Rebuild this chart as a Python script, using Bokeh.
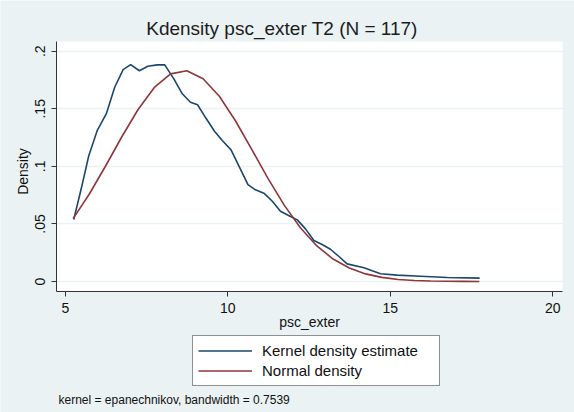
import math
from bokeh.plotting import figure
from bokeh.models import Range1d, FixedTicker, Legend, LegendItem, Label, BoxAnnotation
from bokeh.embed import file_html
from bokeh.resources import INLINE

# ---- data ----
kde_x = [5.26, 5.49, 5.72, 5.98, 6.26, 6.52, 6.78, 7.01, 7.28, 7.54, 7.83, 8.06,
         8.34, 8.60, 8.85, 9.07, 9.31, 9.59, 9.83, 10.10, 10.37, 10.62, 10.85,
         11.11, 11.37, 11.62, 11.93, 12.14, 12.39, 12.65, 12.90, 13.16, 13.42,
         13.67, 14.19, 14.70, 15.21, 15.93, 16.75, 17.75]
kde_y = [0.0538, 0.0805, 0.109, 0.131, 0.1455, 0.1687, 0.184, 0.1884, 0.183,
         0.1869, 0.1881, 0.1881, 0.176, 0.163, 0.1557, 0.1535, 0.1426, 0.1305,
         0.1224, 0.1143, 0.0987, 0.0842, 0.0796, 0.0767, 0.0697, 0.061, 0.0564,
         0.0535, 0.0457, 0.0356, 0.0321, 0.028, 0.0217, 0.0153, 0.0119, 0.0067,
         0.0055, 0.0046, 0.0035, 0.0029]

norm_x = [5.24, 5.74, 6.24, 6.74, 7.24, 7.74, 8.24, 8.74, 9.24, 9.74, 10.24,
          10.74, 11.24, 11.74, 12.24, 12.74, 13.24, 13.74, 14.24, 14.74, 15.24,
          15.74, 16.24, 16.74, 17.24, 17.74]
norm_y = [0.0546, 0.0760, 0.1003, 0.1257, 0.1494, 0.1685, 0.1803, 0.1830,
          0.1761, 0.1609, 0.1394, 0.1146, 0.0893, 0.0661, 0.0464, 0.0309,
          0.0195, 0.0117, 0.0066, 0.0036, 0.0018, 0.0009, 0.0004, 0.0002,
          0.0001, 0.0000]

x_ticks = [5, 10, 15, 20]
y_ticks = [0, 0.05, 0.1, 0.15, 0.2]
y_tick_labels = ["0", ".05", ".1", ".15", ".2"]

title_text = "Kdensity psc_exter T2 (N = 117)"
x_label = "psc_exter"
y_label = "Density"
note_text = "kernel = epanechnikov, bandwidth = 0.7539"
legend_labels = ["Kernel density estimate", "Normal density"]

# plot-region limits (data units)
X_MIN, X_MAX = 4.729, 20.30
Y_BOTTOM, Y_TOP = -0.00868, 0.2084

FONT = "Liberation Sans"
BG = "#EAF2F3"
TXT = "#111111"
AX = "#333333"
BLUE = "#1A476F"
RED = "#90353B"

p = figure(width=574, height=412, output_backend="svg", toolbar_location=None,
           x_range=Range1d(3.0062, 20.668), y_range=Range1d(-0.11376, 0.24403),
           min_border_left=0, min_border_right=0, min_border_top=0,
           min_border_bottom=0)
p.title.visible = False

p.background_fill_color = BG
p.border_fill_color = BG
p.outline_line_color = None

# white plot region
p.add_layout(BoxAnnotation(left=X_MIN, right=X_MAX, bottom=Y_BOTTOM, top=Y_TOP,
                           fill_color="white", fill_alpha=1.0, line_color=None,
                           level="image"))

p.xgrid.visible = False
p.ygrid.grid_line_color = BG
p.ygrid.grid_line_width = 1.5
p.ygrid.ticker = FixedTicker(ticks=y_ticks)

for ax in (p.xaxis[0], p.yaxis[0]):
    ax.axis_line_color = AX
    ax.major_tick_line_color = AX
    ax.minor_tick_line_color = None
    ax.major_tick_out = 5
    ax.major_tick_in = 0
    ax.major_label_text_font = FONT
    ax.major_label_text_font_size = "14px"
    ax.major_label_text_color = TXT

p.xaxis.ticker = FixedTicker(ticks=x_ticks)
p.xaxis.fixed_location = Y_BOTTOM
p.xaxis.bounds = (X_MIN, X_MAX)
p.xaxis.major_label_standoff = 7

p.yaxis.ticker = FixedTicker(ticks=y_ticks)
p.yaxis.fixed_location = X_MIN
p.yaxis.bounds = (Y_BOTTOM, Y_TOP)
p.yaxis.major_label_overrides = {t: s for t, s in zip(y_ticks, y_tick_labels)}
p.yaxis.major_label_orientation = "vertical"
p.yaxis.major_label_standoff = 6

r1 = p.line(kde_x, kde_y, line_color=BLUE, line_width=1.6)
r2 = p.line(norm_x, norm_y, line_color=RED, line_width=1.6)

legend = Legend(items=[LegendItem(label=legend_labels[0], renderers=[r1]),
                       LegendItem(label=legend_labels[1], renderers=[r2])],
                location=(192, 26), orientation="vertical",
                glyph_width=54, glyph_height=19, label_height=19, spacing=1,
                label_width=172, label_standoff=10, padding=5, margin=0,
                label_text_font=FONT, label_text_font_size="15px",
                label_text_color=TXT, border_line_color="#222222",
                border_line_width=1, background_fill_color="white",
                background_fill_alpha=1.0)
p.add_layout(legend, "center")

p.add_layout(Label(x=281.5, y=384, x_units="screen", y_units="screen",
                   text=title_text, text_align="center", text_baseline="alphabetic",
                   text_font=FONT, text_font_size="19px", text_color="#1c1c1c"))
p.add_layout(Label(x=309, y=90.5, x_units="screen", y_units="screen",
                   text=x_label, text_align="center", text_baseline="alphabetic",
                   text_font=FONT, text_font_size="14px", text_color=TXT))
p.add_layout(Label(x=22, y=241, x_units="screen", y_units="screen",
                   text=y_label, text_align="center", text_baseline="middle",
                   angle=math.pi / 2, text_font=FONT, text_font_size="14px",
                   text_color=TXT))
p.add_layout(Label(x=58, y=12.5, x_units="screen", y_units="screen",
                   text=note_text, text_align="left", text_baseline="alphabetic",
                   text_font=FONT, text_font_size="12px", text_color=TXT))

open("out.html", "w").write(file_html(p, INLINE))
